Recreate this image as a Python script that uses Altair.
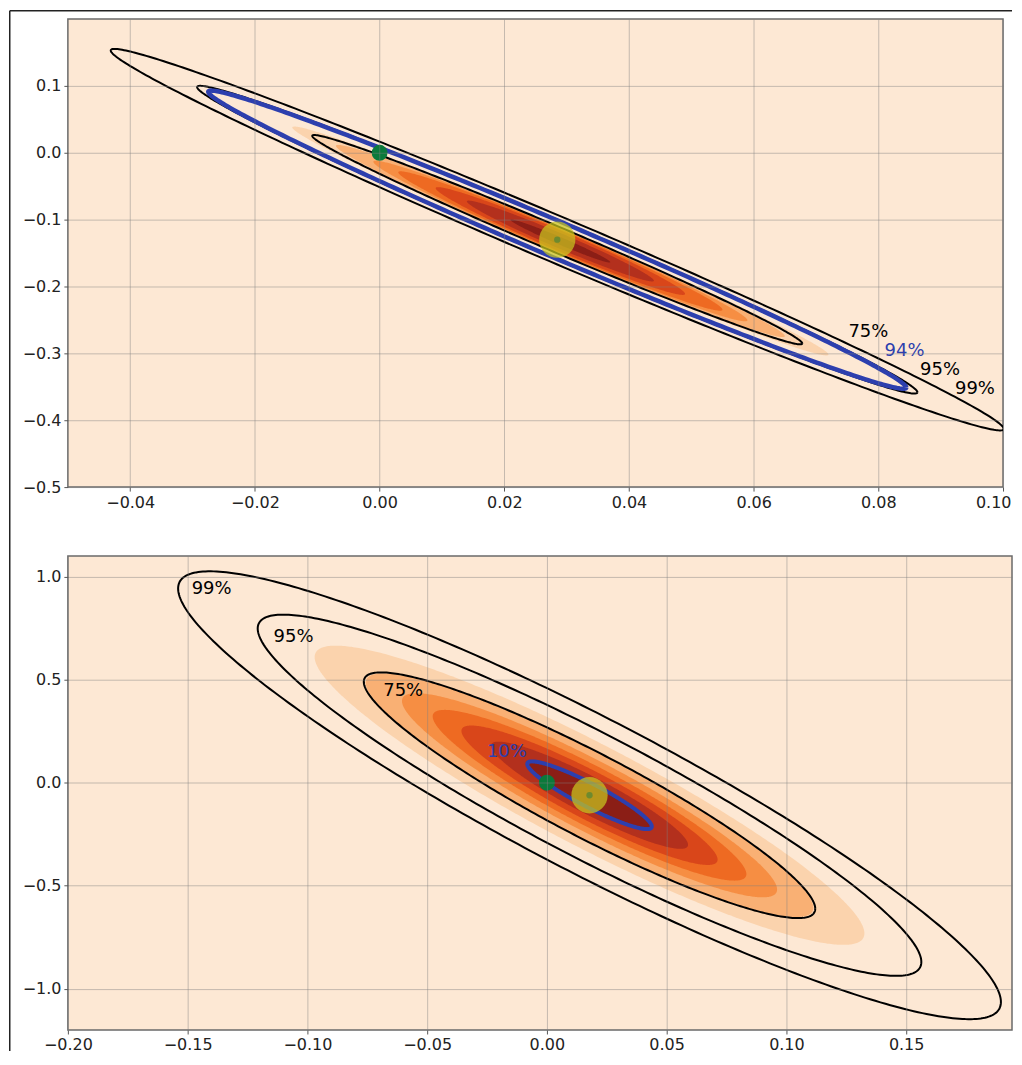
import numpy as np
import pandas as pd
import altair as alt

# ---------------- values ----------------
LEVEL_NAMES = ["75%", "95%", "99%"]
LEVEL_PROBS = [0.75, 0.95, 0.99]
# filled bands (bottom panel): edges as fraction of the peak density
FILL_FRACTIONS = [0.128, 0.256, 0.384, 0.512, 0.640, 0.768, 0.896]
FILL_COLORS = ["#fbd3ad", "#f9b074", "#f68e43", "#ee6a22", "#d9461a", "#b3301d", "#8b1e16"]
BG_COLOR = "#fde8d4"
BLUE = "#2d3fae"

ORIGIN_X = [0.0]
ORIGIN_Y = [0.0]

# top panel
TOP_X_DOMAIN = [-0.05, 0.10]
TOP_Y_DOMAIN = [-0.5, 0.2]
TOP_X_TICKS = [-0.04, -0.02, 0.0, 0.02, 0.04, 0.06, 0.08, 0.10]
TOP_Y_TICKS = [-0.5, -0.4, -0.3, -0.2, -0.1, 0.0, 0.1]
TOP_CENTER = [0.0285, -0.130]
TOP_SIGMA = [0.0236, 0.094]
TOP_RHO = -0.9915
# top filled bands: half length along x and half vertical thickness at the centre
TOP_FILL_CENTER = [0.029, -0.132]
TOP_FILL_HALF_X = [0.043, 0.036, 0.030, 0.026, 0.020, 0.015, 0.008]
TOP_FILL_HALF_T = [0.0215, 0.0205, 0.0195, 0.018, 0.016, 0.012, 0.006]
TOP_BLUE_NAME = "94%"
TOP_BLUE_PROB = 0.94
TOP_LABEL_TEXT = ["75%", "94%", "95%", "99%"]
TOP_LABEL_X = [0.0784, 0.0842, 0.0899, 0.0955]
TOP_LABEL_Y = [-0.2687, -0.297, -0.3254, -0.3537]
TOP_LABEL_COLOR = ["black", BLUE, "black", "black"]

# bottom panel
BOT_X_DOMAIN = [-0.20, 0.1942]
BOT_Y_DOMAIN = [-1.2, 1.1]
BOT_X_TICKS = [-0.20, -0.15, -0.10, -0.05, 0.0, 0.05, 0.10, 0.15]
BOT_Y_TICKS = [-1.0, -0.5, 0.0, 0.5, 1.0]
BOT_CENTER = [0.0178, -0.061]
BOT_SIGMA = [0.0566, 0.358]
BOT_RHO = -0.923
BOT_BLUE_NAME = "10%"
BOT_BLUE_PROB = 0.10
BOT_LABEL_TEXT = ["99%", "95%", "75%", "10%"]
BOT_LABEL_X = [-0.140, -0.1058, -0.060, -0.0167]
BOT_LABEL_Y = [0.942, 0.705, 0.444, 0.150]
BOT_LABEL_COLOR = ["black", "black", "black", BLUE]


# ---------------- geometry helpers ----------------
def radius_from_prob(p):
    return float(np.sqrt(-2.0 * np.log(1.0 - p)))


def radius_from_fraction(f):
    return float(np.sqrt(-2.0 * np.log(f)))


def outline(center, sigma, rho, r, n=361):
    t = np.linspace(0, 2 * np.pi, n)
    x = center[0] + r * sigma[0] * np.cos(t)
    y = center[1] + r * sigma[1] * (rho * np.cos(t) + np.sqrt(1 - rho ** 2) * np.sin(t))
    return x, y


def sheared_band(center, slope, half_x, half_t, n=241):
    th = np.linspace(np.pi, 0, n)
    c = np.cos(th)
    x = center[0] + half_x * c
    ymid = center[1] + slope * half_x * c
    dy = half_t * np.sqrt(np.clip(1 - c * c, 0, None))
    return x, ymid + dy, ymid - dy


def gauss_fill_table(center, sigma, rho):
    rows = []
    slope = rho * sigma[1] / sigma[0]
    for i, f in enumerate(FILL_FRACTIONS):
        r = radius_from_fraction(f)
        x, yh, yl = sheared_band(center, slope, r * sigma[0],
                                 r * sigma[1] * np.sqrt(1 - rho ** 2))
        rows.append(pd.DataFrame({"band": i, "x": x, "yhi": yh, "ylo": yl}))
    return pd.concat(rows, ignore_index=True)


def free_fill_table(center, slope, half_x, half_t):
    rows = []
    for i, (hx, ht) in enumerate(zip(half_x, half_t)):
        x, yh, yl = sheared_band(center, slope, hx, ht)
        rows.append(pd.DataFrame({"band": i, "x": x, "yhi": yh, "ylo": yl}))
    return pd.concat(rows, ignore_index=True)


def line_table(center, sigma, rho, names, probs):
    rows = []
    for name, p in zip(names, probs):
        x, y = outline(center, sigma, rho, radius_from_prob(p))
        rows.append(pd.DataFrame({"level": name, "i": np.arange(len(x)), "x": x, "y": y}))
    return pd.concat(rows, ignore_index=True)


def make_axis(values, fmt, flush=False):
    extra = {"labelFlush": True, "labelFlushOffset": 8} if flush else {"labelFlush": False}
    return alt.Axis(
        values=values, format=fmt, grid=True, gridColor="#808080", gridOpacity=0.45,
        gridWidth=1, tickColor="#555555", tickSize=4, tickWidth=1,
        labelFont="DejaVu Sans", labelFontSize=16, labelColor="#222222",
        labelPadding=3, domain=False, zindex=1, labelOverlap=False,
        title=None, **extra,
    )


def panel(center, sigma, rho, fills, blue_name, blue_prob,
          lab_text, lab_x, lab_y, lab_col, xdom, ydom, xticks, yticks,
          width, height, blue_width, frame=False, flush_x=False):
    xs = alt.Scale(domain=xdom, nice=False, zero=False)
    ys = alt.Scale(domain=ydom, nice=False, zero=False)
    X = alt.X("x:Q", scale=xs, axis=make_axis(xticks, ".2f", flush_x))
    Y = alt.Y("y:Q", scale=ys, axis=make_axis(yticks, ".1f"))

    layers = []
    for i, col in enumerate(FILL_COLORS):
        layers.append(
            alt.Chart(fills).transform_filter(alt.datum.band == i)
            .mark_area(color=col, clip=True)
            .encode(x=X, y=alt.Y("yhi:Q", scale=ys, axis=make_axis(yticks, ".1f")), y2="ylo:Q")
        )
    black = line_table(center, sigma, rho, LEVEL_NAMES, LEVEL_PROBS)
    layers.append(
        alt.Chart(black).mark_line(color="black", strokeWidth=2, clip=True)
        .encode(x=X, y=Y, detail="level:N", order="i:Q")
    )
    blue = line_table(center, sigma, rho, [blue_name], [blue_prob])
    layers.append(
        alt.Chart(blue).mark_line(color=BLUE, strokeWidth=blue_width, clip=True)
        .encode(x=X, y=Y, detail="level:N", order="i:Q")
    )
    labels = pd.DataFrame({"t": lab_text, "x": lab_x, "y": lab_y, "c": lab_col})
    layers.append(
        alt.Chart(labels).mark_text(font="DejaVu Sans", fontSize=18, align="center", baseline="middle")
        .encode(x=X, y=Y, text="t:N", color=alt.Color("c:N", scale=None))
    )
    origin = pd.DataFrame({"x": ORIGIN_X, "y": ORIGIN_Y})
    layers.append(
        alt.Chart(origin).mark_circle(size=254, color="#0b7a3b", opacity=1).encode(x=X, y=Y)
    )
    cen = pd.DataFrame({"x": [center[0]], "y": [center[1]]})
    layers.append(
        alt.Chart(cen).mark_circle(size=1320, color="#c8c61e", opacity=0.72).encode(x=X, y=Y)
    )
    layers.append(
        alt.Chart(cen).mark_circle(size=40, color="#6e8a2e", opacity=1).encode(x=X, y=Y)
    )
    if frame:
        one = pd.DataFrame({"k": [0]})
        layers.append(
            alt.Chart(one).mark_rule(color="#222222", strokeWidth=1.5, clip=False)
            .encode(x=alt.value(-58.25), x2=alt.value(946), y=alt.value(-8.25))
        )
        layers.append(
            alt.Chart(one).mark_rule(color="#222222", strokeWidth=1.5, clip=False)
            .encode(x=alt.value(-58.25), y=alt.value(-8.25), y2=alt.value(1034))
        )
    return alt.layer(*layers).properties(width=width, height=height)


top_fills = free_fill_table(TOP_FILL_CENTER, TOP_RHO * TOP_SIGMA[1] / TOP_SIGMA[0],
                            TOP_FILL_HALF_X, TOP_FILL_HALF_T)
bot_fills = gauss_fill_table(BOT_CENTER, BOT_SIGMA, BOT_RHO)

top = panel(TOP_CENTER, TOP_SIGMA, TOP_RHO, top_fills,
            TOP_BLUE_NAME, TOP_BLUE_PROB, TOP_LABEL_TEXT, TOP_LABEL_X, TOP_LABEL_Y,
            TOP_LABEL_COLOR, TOP_X_DOMAIN, TOP_Y_DOMAIN, TOP_X_TICKS, TOP_Y_TICKS,
            937, 469, 4.5, frame=True, flush_x=True)
bottom = panel(BOT_CENTER, BOT_SIGMA, BOT_RHO, bot_fills,
               BOT_BLUE_NAME, BOT_BLUE_PROB, BOT_LABEL_TEXT, BOT_LABEL_X, BOT_LABEL_Y,
               BOT_LABEL_COLOR, BOT_X_DOMAIN, BOT_Y_DOMAIN, BOT_X_TICKS, BOT_Y_TICKS,
               946, 475, 4, frame=False)

chart = (
    alt.vconcat(top, bottom, spacing=69, bounds="flush")
    .properties(padding={"left": 0, "top": 0, "right": 0, "bottom": 0})
    .configure_view(fill=BG_COLOR, stroke="#6a6a6a", strokeWidth=1.5)
)

chart.save("out.html", embed_options={"renderer": "svg", "actions": False})
